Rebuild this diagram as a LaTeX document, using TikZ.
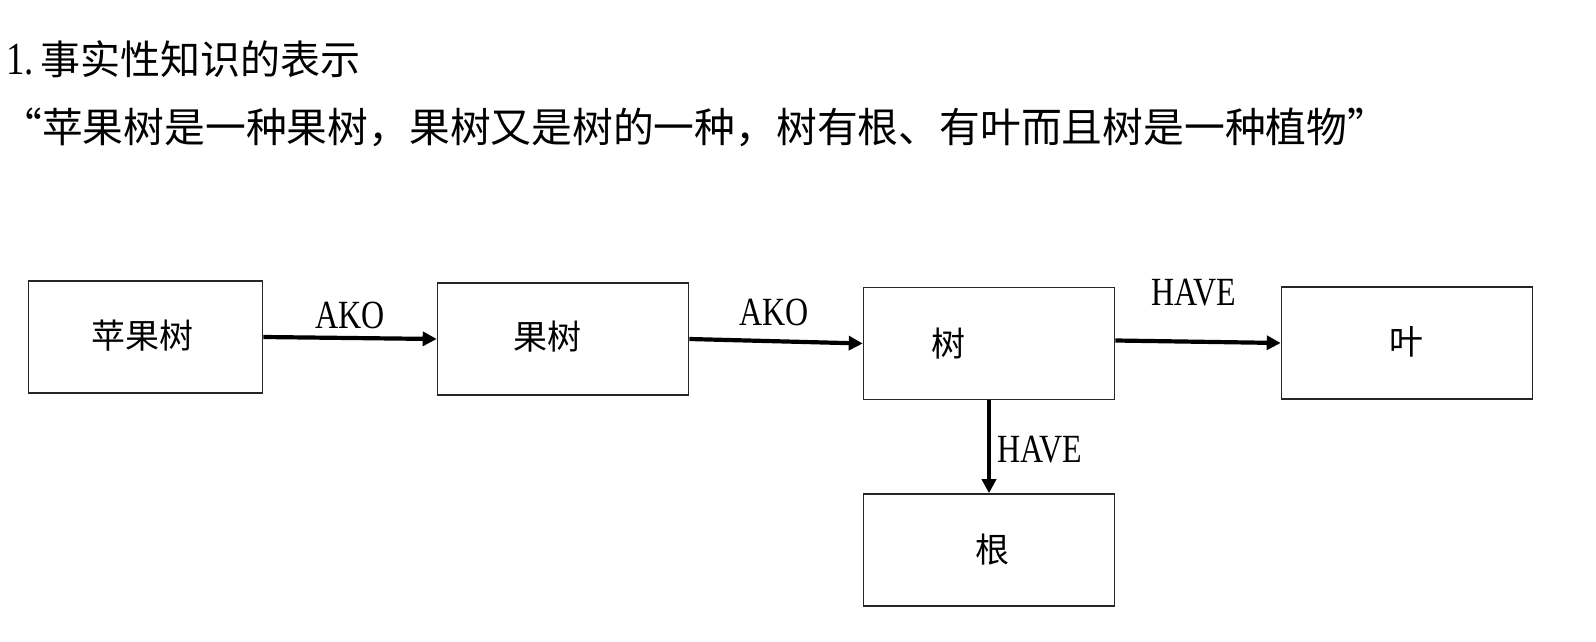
\documentclass[tikz,border=0pt]{standalone}
\usepackage{fontspec}
\setmainfont{Liberation Serif}
\newfontfamily\cjk{Noto Sans CJK SC}
\newfontfamily\lat[FakeStretch=0.8]{Liberation Serif}
\usetikzlibrary{arrows.meta}
\tikzset{
  box/.style={draw=black!85, line width=1.6pt, minimum width=#1, minimum height=112pt, inner sep=0pt},
  box/.default=251pt,
  conn/.style={line width=4.2pt, -{Triangle[length=14pt,width=14pt]}},
  word/.style={font=\cjk\fontsize{34}{36}\selectfont, inner sep=0pt},
  rel/.style={font=\lat\fontsize{40}{42}\selectfont, inner sep=0pt},
  head/.style={font=\fontsize{40}{44}\selectfont, inner sep=0pt, anchor=west}
}
\begin{document}
\begin{tikzpicture}[x=1pt,y=-1pt]
\useasboundingbox (0,0) rectangle (1596,642);
% heading and sentence
\node[head] (title) at (6,59) {{\lat\fontsize{46}{48}\selectfont 1.}\,{\cjk 事实性知识的表示}};
\node[head] (quote) at (1,127) {\cjk\fontsize{40.8}{43}\selectfont “苹果树是一种果树，果树又是树的一种，树有根、有叶而且树是一种植物”};
% concept boxes
\node[box=234pt] (apple) at (145.5,337) {};
\node[box=251pt] (fruit) at (563,339) {};
\node[box=251pt] (tree)  at (989,343.5) {};
\node[box=251pt] (leaf)  at (1407,343) {};
\node[box=251pt] (root)  at (989,550) {};
% box texts
\node[word] (tapple) at (142.5,336) {苹果树};
\node[word] (tfruit) at (547,337) {果树};
\node[word] (ttree)  at (948,344) {树};
\node[word] (tleaf)  at (1406,342) {叶};
\node[word] (troot)  at (992,550) {根};
% relations
\draw[conn] (apple.east) -- (fruit.west);
\draw[conn] (fruit.east) -- (tree.west);
\draw[conn] ([yshift=3pt]tree.east) -- (leaf.west);
\draw[conn] (tree.south) -- (root.north);
\node[rel] (ako1)  at (350,315) {AKO};
\node[rel] (ako2)  at (774,312) {AKO};
\node[rel] (have1) at (1194,293) {HAVE};
\node[rel] (have2) at (1040,450) {HAVE};
\end{tikzpicture}
\end{document}
